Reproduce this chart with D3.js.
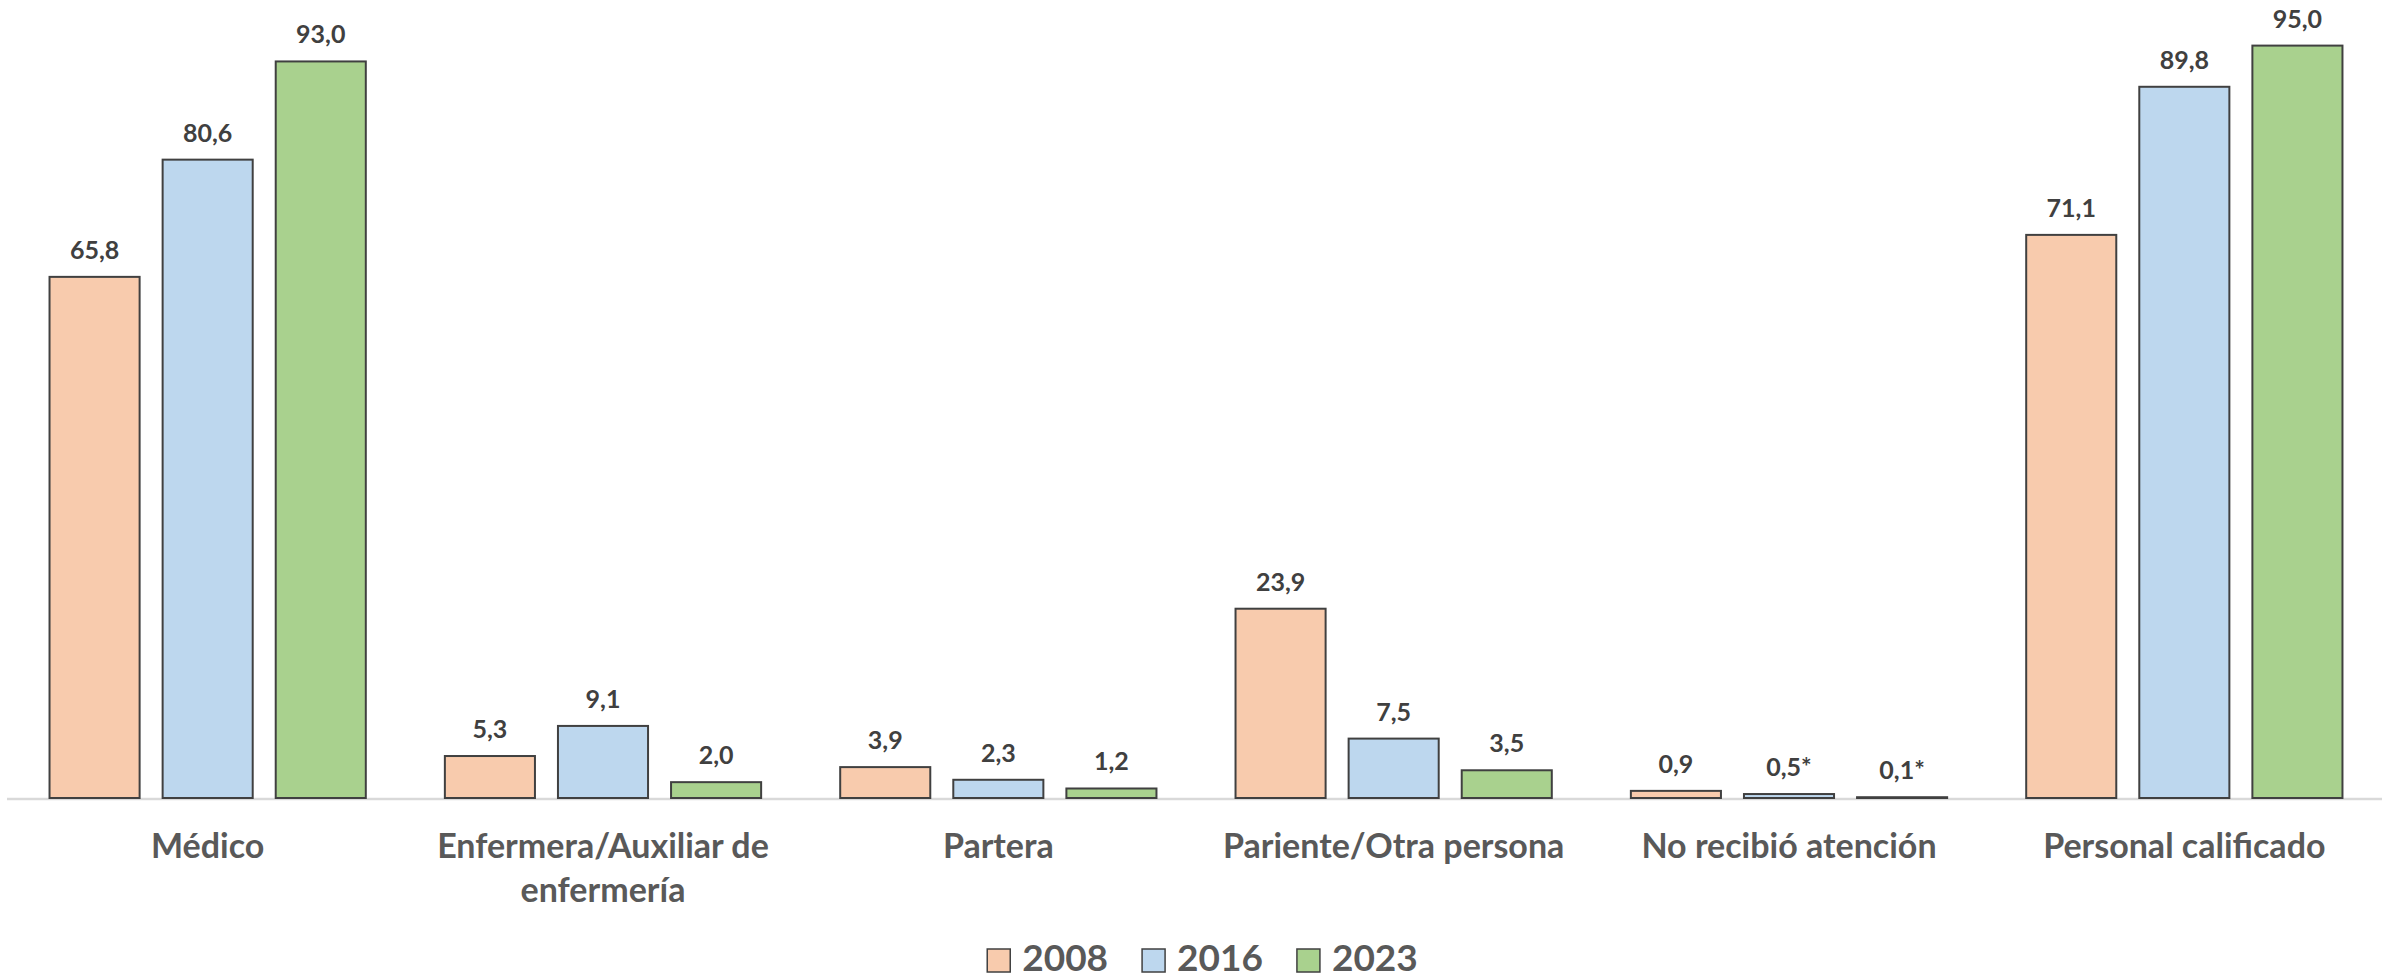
<!DOCTYPE html>
<html>
<head>
<meta charset="utf-8">
<script src="https://cdn.jsdelivr.net/npm/d3@7"></script>
<style>
  html, body { margin: 0; padding: 0; background: #fff; }
  svg { display: block; font-family: Lato, "Open Sans", sans-serif; }
</style>
</head>
<body>
<div id="chart"></div>
<script>
// Data
const categories = [
  ["Médico"],
  ["Enfermera/Auxiliar de", "enfermería"],
  ["Partera"],
  ["Pariente/Otra persona"],
  ["No recibió atención"],
  ["Personal calificado"]
];
const years = ["2008", "2016", "2023"];
const values2008 = [65.8, 5.3, 3.9, 23.9, 0.9, 71.1];
const values2016 = [80.6, 9.1, 2.3, 7.5, 0.5, 89.8];
const values2023 = [93.0, 2.0, 1.2, 3.5, 0.1, 95.0];
const labels2008 = ["65,8", "5,3", "3,9", "23,9", "0,9", "71,1"];
const labels2016 = ["80,6", "9,1", "2,3", "7,5", "0,5*", "89,8"];
const labels2023 = ["93,0", "2,0", "1,2", "3,5", "0,1*", "95,0"];
const colors = ["#F8CBAD", "#BDD7EE", "#A9D18E"];

const series = [
  { year: years[0], values: values2008, labels: labels2008, color: colors[0] },
  { year: years[1], values: values2016, labels: labels2016, color: colors[1] },
  { year: years[2], values: values2023, labels: labels2023, color: colors[2] }
];

const width = 2384, height = 980;
const plot = { left: 10, right: 2382, top: 6, bottom: 798 };

const svg = d3.select('#chart').append('svg')
  .attr('width', width).attr('height', height);

const x0 = d3.scaleBand()
  .domain(d3.range(categories.length))
  .range([plot.left, plot.right])
  .paddingInner(0.2).paddingOuter(0.1);

const x1 = d3.scaleBand()
  .domain(d3.range(series.length))
  .range([0, x0.bandwidth()])
  .paddingInner(0.2035).paddingOuter(0);

const y = d3.scaleLinear().domain([0, 100]).range([plot.bottom, plot.top]);

// axis baseline
svg.append('line')
  .attr('x1', plot.left - 3).attr('x2', plot.right)
  .attr('y1', y(0) + 1).attr('y2', y(0) + 1)
  .attr('stroke', '#D9D9D9').attr('stroke-width', 2.5);

// bars
const groups = svg.append('g').selectAll('g')
  .data(categories.map((c, i) => i))
  .join('g')
  .attr('transform', i => `translate(${x0(i)},0)`);

groups.selectAll('rect')
  .data(i => series.map((s, j) => ({ j, v: s.values[i], color: s.color })))
  .join('rect')
  .attr('x', d => x1(d.j))
  .attr('y', d => y(d.v))
  .attr('width', x1.bandwidth())
  .attr('height', d => y(0) - y(d.v))
  .attr('fill', d => d.color)
  .attr('stroke', '#404040')
  .attr('stroke-width', 2);

// data labels
groups.selectAll('text.val')
  .data(i => series.map((s, j) => ({ j, v: s.values[i], label: s.labels[i] })))
  .join('text')
  .attr('class', 'val')
  .attr('x', d => x1(d.j) + x1.bandwidth() / 2)
  .attr('y', d => y(d.v) - 18)
  .attr('text-anchor', 'middle')
  .attr('font-size', 25)
  .attr('font-weight', 'bold')
  .attr('fill', '#404040')
  .text(d => d.label);

// category labels
const catLabels = svg.append('g').selectAll('text')
  .data(categories)
  .join('text')
  .attr('x', (c, i) => x0(i) + x0.bandwidth() / 2)
  .attr('y', 858)
  .attr('text-anchor', 'middle')
  .attr('font-size', 34)
  .attr('font-weight', 'bold')
  .attr('fill', '#595959');

catLabels.selectAll('tspan')
  .data(c => c)
  .join('tspan')
  .attr('x', function () { return d3.select(this.parentNode).attr('x'); })
  .attr('dy', (t, k) => k === 0 ? 0 : 44)
  .text(t => t);

// legend
const legend = svg.append('g');
const items = legend.selectAll('g')
  .data(series)
  .join('g');
items.append('rect')
  .attr('width', 23).attr('height', 23)
  .attr('y', 949)
  .attr('fill', d => d.color)
  .attr('stroke', '#404040')
  .attr('stroke-width', 1.5);
items.append('text')
  .attr('x', 35)
  .attr('y', 971)
  .attr('font-size', 37)
  .attr('font-weight', 'bold')
  .attr('fill', '#595959')
  .text(d => d.year);

let offset = 0;
const widths = [];
items.each(function () {
  const w = 35 + d3.select(this).select('text').node().getComputedTextLength();
  widths.push(w);
});
const gap = 34;
const total = d3.sum(widths) + gap * (widths.length - 1);
const startX = 1202.5 - total / 2;
items.attr('transform', (d, i) => {
  const tx = startX + offset;
  offset += widths[i] + gap;
  return `translate(${tx},0)`;
});
</script>
</body>
</html>
